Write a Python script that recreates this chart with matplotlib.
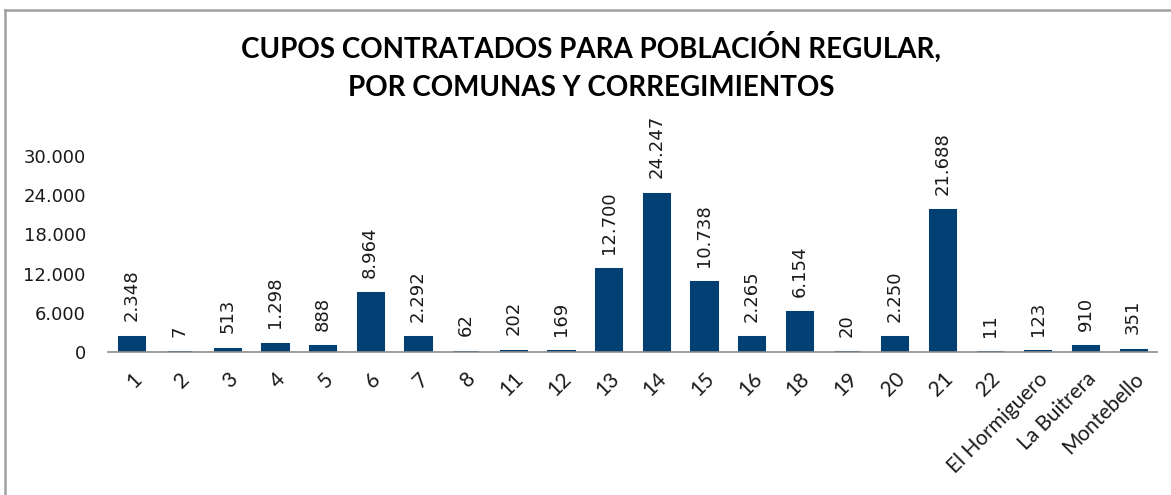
import matplotlib as mpl
import numpy as np
import matplotlib.pyplot as plt
from matplotlib.lines import Line2D

categorias = ['1', '2', '3', '4', '5', '6', '7', '8', '11', '12', '13', '14', '15',
              '16', '18', '19', '20', '21', '22', 'El Hormiguero', 'La Buitrera', 'Montebello']
cupos = [2348, 7, 513, 1298, 888, 8964, 2292, 62, 202, 169, 12700, 24247, 10738,
         2265, 6154, 20, 2250, 21688, 11, 123, 910, 351]
yticks = [0, 6000, 12000, 18000, 24000, 30000]

W, H = 1171, 495
color_barra = '#023F73'

def miles(v):
    return f"{v:,}".replace(",", ".")

fig = plt.figure(figsize=(W / 100, H / 100), dpi=100)
ax = fig.add_axes([108 / W, 1 - 352 / H, (1157 - 108) / W, (352 - 156) / H])

x = np.arange(len(categorias))
ax.bar(x, cupos, width=0.53, color=color_barra, edgecolor=color_barra, linewidth=2.2)

for xi, v in zip(x, cupos):
    ax.annotate(miles(v), (xi, v), xytext=(0, 11), textcoords='offset points',
                rotation=90, ha='center', va='bottom',
                fontsize=13, color='#1a1a1a', family='DejaVu Sans', annotation_clip=False)

ax.set_xlim(-0.5, len(categorias) - 0.5)
ax.set_ylim(0, 30000)
ax.set_yticks(yticks)
ax.set_yticklabels([miles(t) for t in yticks], fontsize=13, color='#1a1a1a')
ax.set_xticks(x)
ax.set_xticklabels(categorias, rotation=45, ha='right', va='top', rotation_mode='anchor',
                   fontsize=15, family='Lato', color='#1a1a1a')
ax.tick_params(axis='y', length=0, pad=16)
ax.tick_params(axis='x', length=0, pad=12)
for s in ['top', 'right', 'left']:
    ax.spines[s].set_visible(False)
ax.spines['bottom'].set_color('#8c8c8c')
ax.spines['bottom'].set_linewidth(1.2)
ax.spines['bottom'].set_zorder(3)

fig.text(591 / W, 1 - 47 / H, 'CUPOS CONTRATADOS PARA POBLACIÓN REGULAR,',
         ha='center', va='center', fontsize=20, fontweight='bold', family='Lato')
fig.text(591 / W, 1 - 88 / H, 'POR COMUNAS Y CORREGIMIENTOS',
         ha='center', va='center', fontsize=20, fontweight='bold', family='Lato')

# marco gris arriba e izquierda
fig.add_artist(Line2D([5.5 / W, 1], [1 - 9.5 / H, 1 - 9.5 / H], color='#a0a0a0', lw=1.8,
                      transform=fig.transFigure))
fig.add_artist(Line2D([5.5 / W, 5.5 / W], [0, 1 - 9.5 / H], color='#a0a0a0', lw=1.8,
                      transform=fig.transFigure))

fig.savefig('out.png', dpi=100)
